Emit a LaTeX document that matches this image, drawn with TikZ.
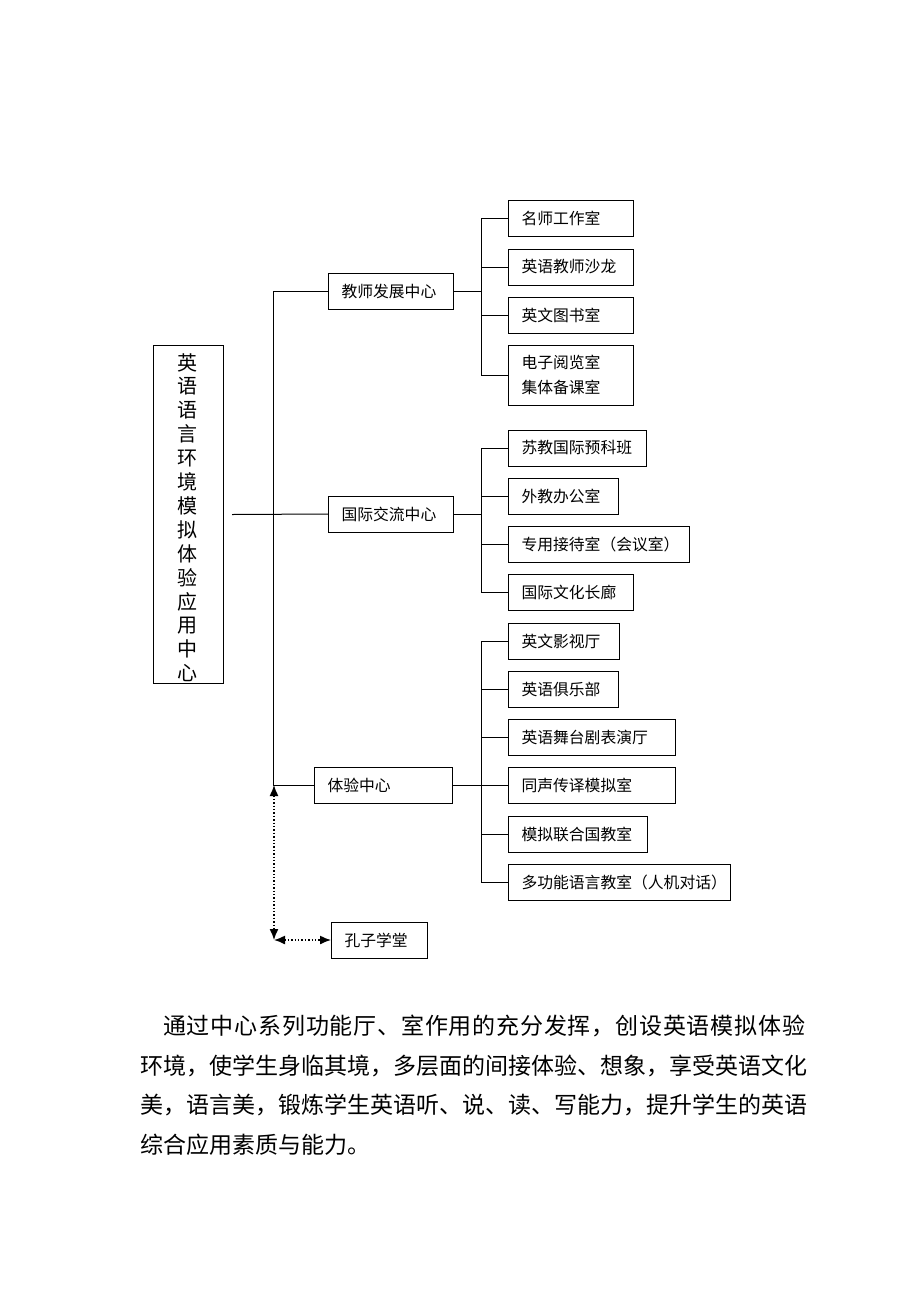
\documentclass[tikz,border=0pt]{standalone}
\usepackage{fontspec}
\setmainfont{Noto Sans CJK SC}
\newfontfamily\cjkwide[LetterSpace=3.5]{Noto Sans CJK SC}
\usetikzlibrary{shapes,arrows.meta}
\newcommand{\boxfont}{\fontsize{15.8}{25}\selectfont}

\begin{document}
\begin{tikzpicture}[x=1pt, y=-1pt,
					room/.style={draw, line width=1pt, anchor=west, inner xsep=0pt, inner ysep=0pt, minimum height=36pt, text width=#1, align=left, font=\boxfont, execute at begin node={\leftskip=13pt}},
					link/.style={line width=1pt},
					dots/.style={line width=1.4pt, dotted, {Latex[length=11pt,width=9pt]}-{Latex[length=11pt,width=9pt]}},
					para/.style={anchor=base west, inner sep=0pt, font=\fontsize{23}{40}\selectfont}]
    \useasboundingbox (0,0) rectangle (920,1302);
    % Place nodes
    \node [draw, line width=1pt, anchor=north west, minimum width=70pt, minimum height=338pt, inner sep=0pt] (root) at (153,345) {};
    \node [align=center, anchor=north, inner sep=0pt, font=\fontsize{20}{23.9}\selectfont] (rootname) at (187,353) {英\\语\\语\\言\\环\\境\\模\\拟\\体\\验\\应\\用\\中\\心};
    \node [room=125pt] (tf) at (328,291) {教师发展中心};
    \node [room=125pt] (gj) at (328,514) {国际交流中心};
    \node [room=138pt] (ty) at (314,785) {体验中心};
    \node [room=125pt] (ms) at (508,218) {名师工作室};
    \node [room=125pt] (ls) at (508,267) {英语教师沙龙};
    \node [room=125pt] (ts) at (508,315) {英文图书室};
    \node [room=125pt, minimum height=60pt] (dz) at (508,375) {电子阅览室\\集体备课室};
    \node [room=138pt] (sj) at (508,448) {苏教国际预科班};
    \node [room=110pt] (wj) at (508,496) {外教办公室};
    \node [room=181pt] (zy) at (508,544) {专用接待室（会议室）};
    \node [room=125pt] (wh) at (508,592) {国际文化长廊};
    \node [room=111pt] (ys) at (508,641) {英文影视厅};
    \node [room=110pt] (jl) at (508,689) {英语俱乐部};
    \node [room=167pt] (wt) at (508,737) {英语舞台剧表演厅};
    \node [room=167pt] (tc) at (508,785) {同声传译模拟室};
    \node [room=139pt] (lh) at (508,834) {模拟联合国教室};
    \node [room=222pt] (dg) at (508,882) {多功能语言教室（人机对话）};
    \node [room=96pt] (kz) at (331,940) {孔子学堂};
    \coordinate (trunk) at (273,0);
    \coordinate (kzc) at (274,940);
    % Draw edges
    \draw[link] ([xshift=8pt]root.east) -- (gj.west);
    \draw[link] (tf.west) -| (trunk |- ty.west) -- (ty.west);
    \draw[link] (tf.east) -- ++(27,0);
    \draw[link] (ms.west) -| ([xshift=-27pt]dz.west) -- (dz.west);
    \foreach \n in {ls,ts} \draw[link] (\n.west) -- ++(-27,0);
    \draw[link] (gj.east) -- ++(27,0);
    \draw[link] (sj.west) -| ([xshift=-27pt]wh.west) -- (wh.west);
    \foreach \n in {wj,zy} \draw[link] (\n.west) -- ++(-27,0);
    \draw[link] (ty.east) -- (tc.west);
    \draw[link] (ys.west) -| ([xshift=-27pt]dg.west) -- (dg.west);
    \foreach \n in {jl,wt,lh} \draw[link] (\n.west) -- ++(-27,0);
    \draw[dots] (kzc |- ty.west) -- (kzc);
    \draw[dots] (kzc) -- (kz.west);
    % Text below
    \node [para, font=\cjkwide\fontsize{23}{40}\selectfont] (line1) at (163,1034) {通过中心系列功能厅、室作用的充分发挥，创设英语模拟体验};
    \node [para] (line2) at (140,1074) {环境，使学生身临其境，多层面的间接体验、想象，享受英语文化};
    \node [para] (line3) at (140,1113) {美，语言美，锻炼学生英语听、说、读、写能力，提升学生的英语};
    \node [para] (line4) at (140,1153) {综合应用素质与能力。};
\end{tikzpicture}
\end{document}
